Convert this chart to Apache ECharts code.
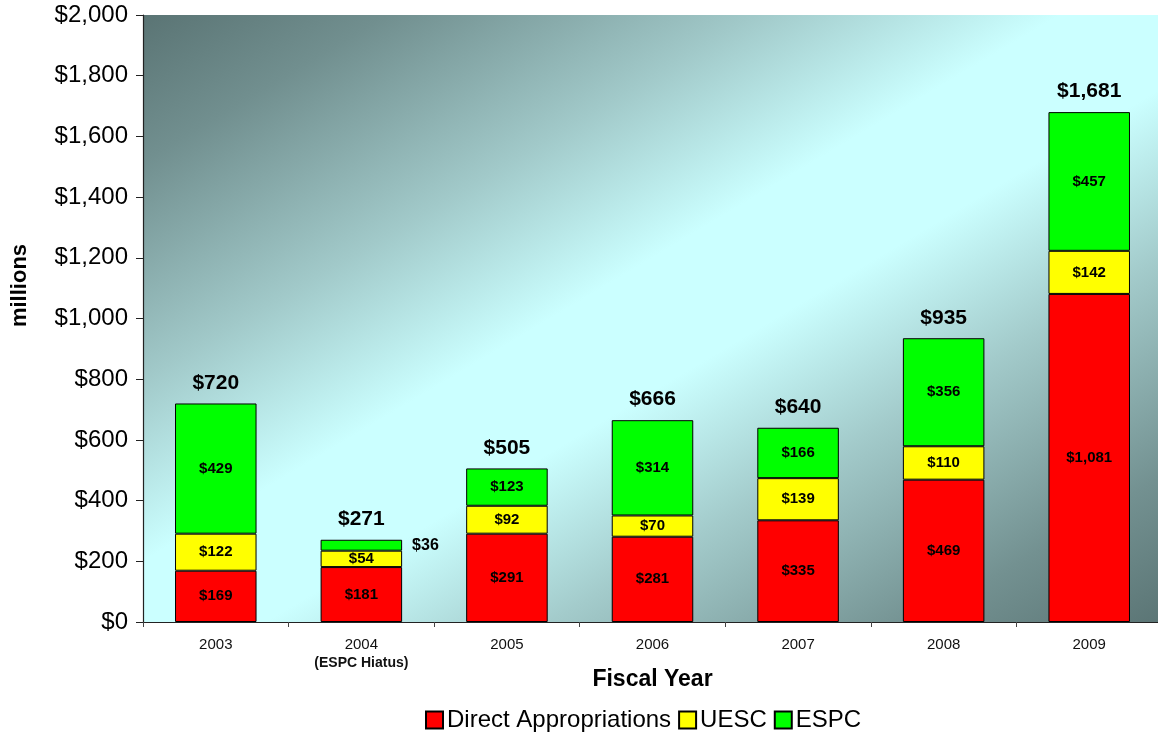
<!DOCTYPE html>
<html>
<head>
<meta charset="utf-8">
<script src="https://cdn.jsdelivr.net/npm/echarts@6/dist/echarts.min.js"></script>
<style>
html,body{margin:0;padding:0;background:#fff;}
#chart{width:1158px;height:734px;}
</style>
</head>
<body>
<div id="chart"></div>
<script>
const categories = ['2003', '2004', '2005', '2006', '2007', '2008', '2009'];
const categoryNotes = ['', '(ESPC Hiatus)', '', '', '', '', ''];
const directAppropriations = [169, 181, 291, 281, 335, 469, 1081];
const uesc = [122, 54, 92, 70, 139, 110, 142];
const espc = [429, 36, 123, 314, 166, 356, 457];
const totals = [720, 271, 505, 666, 640, 935, 1681];
const yTicks = [0, 200, 400, 600, 800, 1000, 1200, 1400, 1600, 1800, 2000];

const FONT = '"Liberation Sans", Arial, sans-serif';
const fmt = v => '$' + v.toLocaleString('en-US');

const GRID = { left: 143, right: -4, top: 15, bottom: 112 };
const W = 1158 - GRID.left - GRID.right;
const H = 734 - GRID.top - GRID.bottom;
// gradient whose iso-lines run parallel to the plot's anti-diagonal
const k = 2 * W * H / (W * W + H * H);
const gx = k * H / W, gy = k * W / H;

const chart = echarts.init(document.getElementById('chart'));

const innerLabel = {
  show: true, position: 'inside', color: '#000', fontWeight: 'bold',
  fontSize: 15, fontFamily: FONT,
  formatter: p => fmt(p.value)
};
const barItem = c => ({ color: c, borderColor: '#000', borderWidth: 1 });

const espcData = espc.map((v, i) => {
  if (i === 1) {
    return { value: v, label: { position: 'right', distance: 10, fontSize: 16 } };
  }
  return v;
});

chart.setOption({
  animation: false,
  textStyle: { fontFamily: FONT },
  grid: Object.assign({}, GRID, {
    outerBoundsMode: 'none',
    containLabel: false,
    show: true, borderWidth: 0,
    backgroundColor: new echarts.graphic.LinearGradient(0, 0, gx, gy, [
      { offset: 0, color: '#5a7474' },
      { offset: 0.12, color: '#718f8f' },
      { offset: 0.3, color: '#a1c9c9' },
      { offset: 0.45, color: '#cbffff' },
      { offset: 0.56, color: '#cbffff' },
      { offset: 0.7, color: '#a3cbcb' },
      { offset: 0.88, color: '#739191' },
      { offset: 1, color: '#5b7575' }
    ])
  }),
  legend: {
    data: ['Direct Appropriations', 'UESC', 'ESPC'],
    left: 420, top: 703,
    itemWidth: 17, itemHeight: 17, itemGap: 7,
    icon: 'rect',
    textStyle: { fontSize: 24, color: '#000', fontFamily: FONT, padding: [0, 0, 0, -1] }
  },
  xAxis: {
    type: 'category',
    data: categories,
    name: 'Fiscal Year',
    nameLocation: 'middle',
    nameGap: 46,
    nameMoveOverlap: false,
    nameTextStyle: { fontSize: 23, fontWeight: 'bold', color: '#000', fontFamily: FONT },
    axisLine: { lineStyle: { color: '#222', width: 1.2 } },
    axisTick: { show: true, interval: 0, alignWithLabel: false, length: 5, lineStyle: { color: '#444' } },
    axisLabel: {
      interval: 0,
      color: '#111', fontSize: 15, margin: 14, fontFamily: FONT, lineHeight: 18,
      formatter: (v, i) => categoryNotes[i] ? v + '\n{b|' + categoryNotes[i] + '}' : v,
      rich: { b: { fontWeight: 'bold', fontSize: 14, color: '#111', fontFamily: FONT } }
    }
  },
  yAxis: {
    type: 'value',
    min: 0, max: 2000, interval: 200,
    name: 'millions',
    nameLocation: 'middle',
    nameGap: 112,
    nameMoveOverlap: false,
    nameTextStyle: { fontSize: 22, fontWeight: 'bold', color: '#000', fontFamily: FONT, padding: [0, 0, 0, 66] },
    splitLine: { show: false },
    axisLine: { show: true, lineStyle: { color: '#222', width: 1.2 } },
    axisTick: { show: true, length: 7, lineStyle: { color: '#222' } },
    axisLabel: {
      color: '#000', fontSize: 24, margin: 15, fontFamily: FONT,
      formatter: v => yTicks.includes(v) ? fmt(v) : ''
    }
  },
  series: [
    {
      name: 'Direct Appropriations', type: 'bar', stack: 'total',
      data: directAppropriations, barWidth: '56%',
      itemStyle: barItem('#ff0000'), label: innerLabel
    },
    {
      name: 'UESC', type: 'bar', stack: 'total',
      data: uesc, barWidth: '56%',
      itemStyle: barItem('#ffff00'), label: innerLabel
    },
    {
      name: 'ESPC', type: 'bar', stack: 'total',
      data: espcData, barWidth: '56%',
      itemStyle: barItem('#00ff00'), label: innerLabel
    },
    {
      name: 'Total', type: 'bar', stack: 'total',
      data: totals.map(() => 0), barWidth: '56%',
      itemStyle: { color: 'rgba(0,0,0,0)', borderWidth: 0 },
      label: {
        show: true, position: 'top', distance: 10,
        fontSize: 21, fontWeight: 'bold', color: '#000', fontFamily: FONT,
        formatter: p => fmt(totals[p.dataIndex])
      },
      tooltip: { show: false }
    }
  ]
});
</script>
</body>
</html>
